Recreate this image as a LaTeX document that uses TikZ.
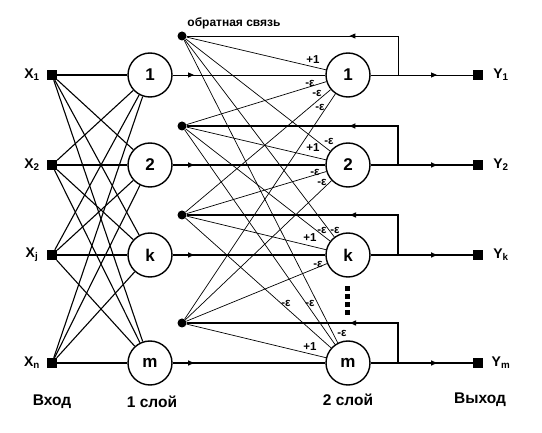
\documentclass[tikz,border=0pt]{standalone}
\usepackage{fontspec}
\setmainfont{Liberation Sans}
\usetikzlibrary{arrows.meta, decorations.markings}
\tikzset{
  neuron/.style={
    circle, draw=black, line width=1.4pt, minimum size=44pt, inner sep=0pt,
    font=\fontsize{17}{17}\selectfont\bfseries
  },
  inbox/.style={
    rectangle, fill=black, minimum size=10pt, inner sep=0pt
  },
  fbdot/.style={
    circle, fill=black, minimum size=9pt, inner sep=0pt
  },
  link/.style={line width=1.1pt},
  thinlink/.style={line width=0.7pt},
  weight/.style={font=\fontsize{11.5}{11.5}\selectfont\bfseries, inner sep=0pt},
  xlabel/.style={font=\fontsize{14}{14}\selectfont\bfseries, inner sep=0pt},
  caption/.style={font=\fontsize{15.5}{15.5}\selectfont\bfseries, inner sep=0pt},
  midarrow/.style={
    postaction={decorate},
    decoration={markings, mark=at position #1 with {\arrow{Triangle[length=6pt,width=5pt]}}}
  }
}

\begin{document}
\begin{tikzpicture}[x=1pt, y=-1pt]
\useasboundingbox (0,0) rectangle (542,433);

% Вход
\node (in1) [inbox] at (52,75) {};
\node (in2) [inbox] at (52,165) {};
\node (in3) [inbox] at (52,255) {};
\node (in4) [inbox] at (52,363) {};
\node (lx1) [xlabel] at (32,75) {X\textsubscript{1}};
\node (lx2) [xlabel] at (32,165) {X\textsubscript{2}};
\node (lx3) [xlabel] at (32,255) {X\textsubscript{j}};
\node (lx4) [xlabel] at (32,363) {X\textsubscript{n}};

% 1 слой
\node (a1) [neuron] at (150,75) {1};
\node (a2) [neuron] at (150,165) {2};
\node (a3) [neuron] at (150,255) {k};
\node (a4) [neuron] at (150,363) {m};

% точки обратной связи
\node (fb1) [fbdot] at (182,36) {};
\node (fb2) [fbdot] at (182,126) {};
\node (fb3) [fbdot] at (182,215) {};
\node (fb4) [fbdot] at (182,323) {};
\node (fbtext) [font=\fontsize{12}{12}\selectfont\bfseries, inner sep=0pt] at (234,23) {обратная связь};

% 2 слой
\node (b1) [neuron] at (348,75) {1};
\node (b2) [neuron] at (348,165) {2};
\node (b3) [neuron] at (348,255) {k};
\node (b4) [neuron] at (348,363) {m};

% Выход
\node (out1) [inbox] at (478,75) {};
\node (out2) [inbox] at (478,165) {};
\node (out3) [inbox] at (478,255) {};
\node (out4) [inbox] at (478,363) {};
\node (ly1) [xlabel] at (501,75) {Y\textsubscript{1}};
\node (ly2) [xlabel] at (501,165) {Y\textsubscript{2}};
\node (ly3) [xlabel] at (501,255) {Y\textsubscript{k}};
\node (ly4) [xlabel] at (501,363) {Y\textsubscript{m}};

% точки ответвления
\coordinate (t1) at (398,75);
\coordinate (t2) at (398,165);
\coordinate (t3) at (398,255);
\coordinate (t4) at (398,363);

% связи вход -> 1 слой
\foreach \j in {1,...,4} {
  \foreach \i in {1,...,4} {
    \draw [link] (in\j) -- (a\i);
  }
}

% связи 1 слой -> 2 слой и выход
\foreach \i/\w in {1/0.9pt, 2/1.5pt, 3/1.5pt, 4/1.5pt} {
  \draw [line width=\w, midarrow=0.14] (a\i) -- (b\i);
  \draw [line width=\w, midarrow=0.65] (b\i) -- (out\i);
  \draw [line width=\w, midarrow=0.35] (t\i) |- (fb\i);
}

% обратные связи -> 2 слой
\foreach \j in {1,...,4} {
  \foreach \i in {1,...,4} {
    \draw [thinlink] (fb\j) -- (b\i);
  }
}

% веса
\node (w11) [weight] at (313,60) {+1};
\node (w21) [weight] at (310,83) {-ε};
\node (w31) [weight] at (317,93) {-ε};
\node (w41) [weight] at (320,107) {-ε};
\node (w12) [weight] at (329,141) {-ε};
\node (w22) [weight] at (313,148) {+1};
\node (w32) [weight] at (315,172) {-ε};
\node (w42) [weight] at (322,182) {-ε};
\node (w13) [weight] at (322,230) {-ε};
\node (w23) [weight] at (335,230) {-ε};
\node (w33) [weight] at (310,238) {+1};
\node (w43) [weight] at (318,264) {-ε};
\node (w34) [weight] at (286,303) {-ε};
\node (w24) [weight] at (310,303) {-ε};
\node (w14) [weight] at (342,333) {-ε};
\node (w44) [weight] at (310,347) {+1};

% многоточие
\foreach \y in {286,294,302,310} {
  \fill (345,\y) rectangle (350,\y+5);
}

% подписи
\node (cap1) [caption] at (52,402) {Вход};
\node (cap2) [caption] at (152,402) {1 слой};
\node (cap3) [caption] at (348,400) {2 слой};
\node (cap4) [caption] at (480,400) {Выход};

\end{tikzpicture}
\end{document}
